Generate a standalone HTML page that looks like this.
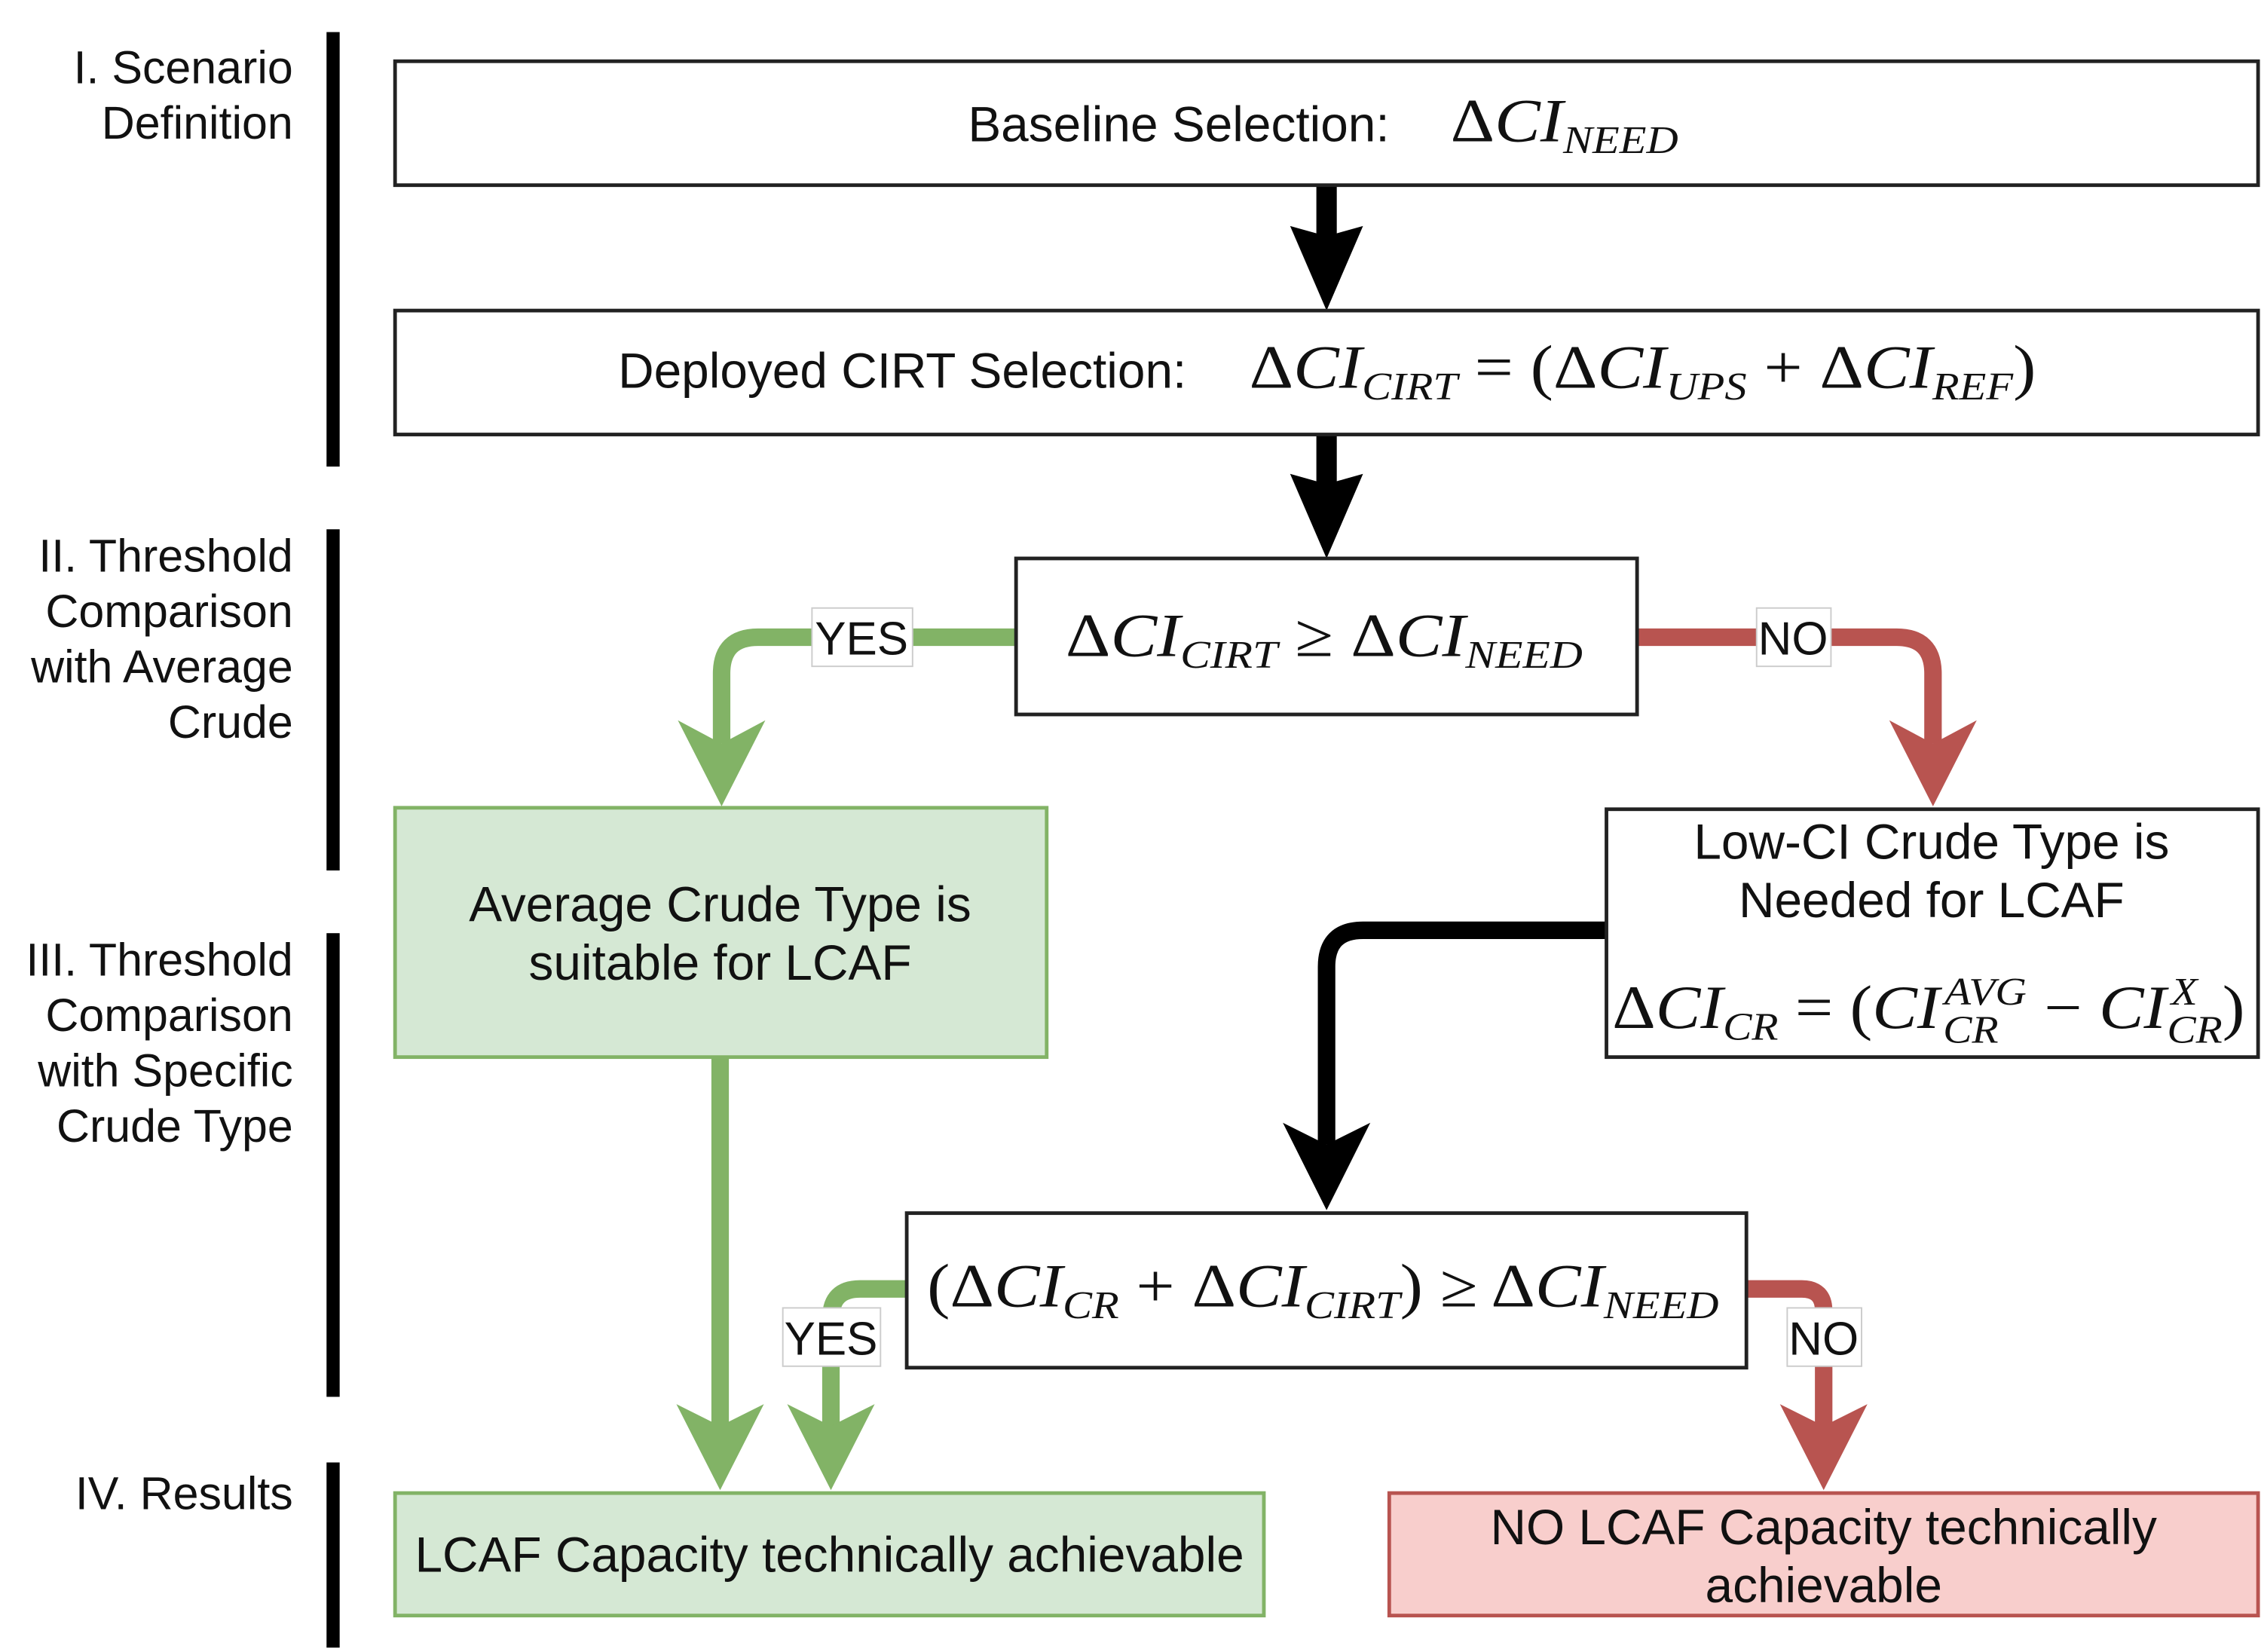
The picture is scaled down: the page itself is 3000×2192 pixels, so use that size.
<!DOCTYPE html>
<html><head><meta charset="utf-8"><style>
html,body{margin:0;padding:0;background:#fff;}
svg{display:block;}
.lbl{font-family:"Liberation Sans",sans-serif;font-size:31.5px;fill:#111;}
.t{font-family:"Liberation Sans",sans-serif;font-size:34px;fill:#111;}
.e{font-family:"Liberation Sans",sans-serif;font-size:32px;fill:#111;}
.m{font-family:"Liberation Serif",serif;font-style:italic;font-size:42px;fill:#111;}
.r{font-style:normal;}
.s{font-size:27px;}
</style></head><body>
<svg width="3000" height="2192" viewBox="0 0 1551 1133" preserveAspectRatio="none" xmlns="http://www.w3.org/2000/svg">
<rect x="0" y="0" width="1551" height="1133" fill="#fff"/>
<rect x="224" y="22" width="9" height="298" fill="#000"/>
<rect x="224" y="363" width="9" height="234" fill="#000"/>
<rect x="224" y="640" width="9" height="318" fill="#000"/>
<rect x="224" y="1003" width="9" height="127" fill="#000"/>
<g class="lbl" text-anchor="end">
<text x="201" y="57">I. Scenario</text>
<text x="201" y="95">Definition</text>
<text x="201" y="392">II. Threshold</text>
<text x="201" y="430">Comparison</text>
<text x="201" y="468">with Average</text>
<text x="201" y="506">Crude</text>
<text x="201" y="669">III. Threshold</text>
<text x="201" y="707">Comparison</text>
<text x="201" y="745">with Specific</text>
<text x="201" y="783">Crude Type</text>
<text x="201" y="1035">IV. Results</text>
</g>
<g fill="none" stroke-linejoin="round">
<line x1="910" y1="127" x2="910" y2="170" stroke="#000" stroke-width="14"/>
<line x1="910" y1="298" x2="910" y2="340" stroke="#000" stroke-width="14"/>
<path d="M697 437 H520 Q495 437 495 462 V510" stroke="#82b366" stroke-width="12"/>
<path d="M1123 437 H1301 Q1326 437 1326 462 V510" stroke="#b85450" stroke-width="12"/>
<path d="M1102 638 H935 Q910 638 910 663 V785" stroke="#000" stroke-width="12"/>
<line x1="494" y1="725" x2="494" y2="980" stroke="#82b366" stroke-width="12"/>
<path d="M622 884 H590 Q570 884 570 904 V980" stroke="#82b366" stroke-width="12"/>
<path d="M1198 884 H1236 Q1251 884 1251 899 V980" stroke="#b85450" stroke-width="12"/>
</g>
<polygon points="910,213 885,155 910,162 935,155" fill="#000"/>
<polygon points="910,383 885,325 910,332 935,325" fill="#000"/>
<polygon points="495,553 465,494 495,510 525,494" fill="#82b366"/>
<polygon points="1326,553 1296,494 1326,510 1356,494" fill="#b85450"/>
<polygon points="910,830 880,770 910,785 940,770" fill="#000"/>
<polygon points="494,1022 464,963 494,978 524,963" fill="#82b366"/>
<polygon points="570,1022 540,963 570,978 600,963" fill="#82b366"/>
<polygon points="1251,1022 1221,963 1251,978 1281,963" fill="#b85450"/>
<rect x="271" y="42" width="1278" height="85" fill="#fff" stroke="#222" stroke-width="2.5"/>
<rect x="271" y="213" width="1278" height="85" fill="#fff" stroke="#222" stroke-width="2.5"/>
<rect x="697" y="383" width="426" height="107" fill="#fff" stroke="#222" stroke-width="2.5"/>
<rect x="271" y="554" width="447" height="171" fill="#d5e8d4" stroke="#82b366" stroke-width="2.5"/>
<rect x="1102" y="555" width="447" height="170" fill="#fff" stroke="#222" stroke-width="2.5"/>
<rect x="622" y="832" width="576" height="106" fill="#fff" stroke="#222" stroke-width="2.5"/>
<rect x="271" y="1024" width="596" height="84" fill="#d5e8d4" stroke="#82b366" stroke-width="2.5"/>
<rect x="953" y="1024" width="596" height="84" fill="#f8cecc" stroke="#b85450" stroke-width="2.5"/>
<rect x="557" y="417" width="69" height="40" fill="#fff" stroke="#ccc" stroke-width="1"/>
<text x="591" y="449" class="e" text-anchor="middle">YES</text>
<rect x="1205" y="417" width="51" height="40" fill="#fff" stroke="#ccc" stroke-width="1"/>
<text x="1230" y="449" class="e" text-anchor="middle">NO</text>
<rect x="537" y="897" width="67" height="40" fill="#fff" stroke="#ccc" stroke-width="1"/>
<text x="570" y="929" class="e" text-anchor="middle">YES</text>
<rect x="1226" y="897" width="51" height="40" fill="#fff" stroke="#ccc" stroke-width="1"/>
<text x="1251" y="929" class="e" text-anchor="middle">NO</text>

<text x="664" y="97" class="t">Baseline Selection:</text>
<g transform="translate(995,97) scale(1.12,1)"><text x="0" y="0" class="m"><tspan class="r">Δ</tspan>CI<tspan class="s" dy="8">NEED</tspan></text></g>

<text x="424" y="266" class="t">Deployed CIRT Selection:</text>
<g transform="translate(857,266) scale(1.12,1)"><text x="0" y="0" class="m"><tspan class="r">Δ</tspan>CI<tspan class="s" dy="8">CIRT</tspan><tspan dy="-8" class="r"> = (Δ</tspan>CI<tspan class="s" dy="8">UPS</tspan><tspan dy="-8" class="r"> + Δ</tspan>CI<tspan class="s" dy="8">REF</tspan><tspan dy="-8" class="r">)</tspan></text></g>

<g transform="translate(731,450) scale(1.14,1)"><text x="0" y="0" class="m"><tspan class="r">Δ</tspan>CI<tspan class="s" dy="8">CIRT</tspan><tspan dy="-8" class="r"> ≥ Δ</tspan>CI<tspan class="s" dy="8">NEED</tspan></text></g>

<text x="494" y="632" class="t" text-anchor="middle">Average Crude Type is</text>
<text x="494" y="672" class="t" text-anchor="middle">suitable for LCAF</text>

<text x="1325" y="589" class="t" text-anchor="middle">Low-CI Crude Type is</text>
<text x="1325" y="629" class="t" text-anchor="middle">Needed for LCAF</text>
<g transform="translate(1106,705) scale(1.1,1)"><text x="0" y="0" class="m"><tspan class="r">Δ</tspan>CI<tspan class="s" dy="8">CR</tspan><tspan dy="-8" class="r"> = (</tspan>CI<tspan class="s" dx="3" dy="-16">AVG</tspan><tspan class="s" dx="-52" dy="26">CR</tspan><tspan dx="18" dy="-10" class="r"> − </tspan>CI<tspan class="s" dx="3" dy="-16">X</tspan><tspan class="s" dx="-19" dy="26">CR</tspan><tspan dy="-10" class="r">)</tspan></text></g>

<g transform="translate(636,896) scale(1.12,1)"><text x="0" y="0" class="m"><tspan class="r">(Δ</tspan>CI<tspan class="s" dy="8">CR</tspan><tspan dy="-8" class="r"> + Δ</tspan>CI<tspan class="s" dy="8">CIRT</tspan><tspan dy="-8" class="r">) ≥ Δ</tspan>CI<tspan class="s" dy="8">NEED</tspan></text></g>

<text x="569" y="1078" class="t" text-anchor="middle">LCAF Capacity technically achievable</text>
<text x="1251" y="1059" class="t" text-anchor="middle">NO LCAF Capacity technically</text>
<text x="1251" y="1099" class="t" text-anchor="middle">achievable</text>
</svg>
</body></html>
